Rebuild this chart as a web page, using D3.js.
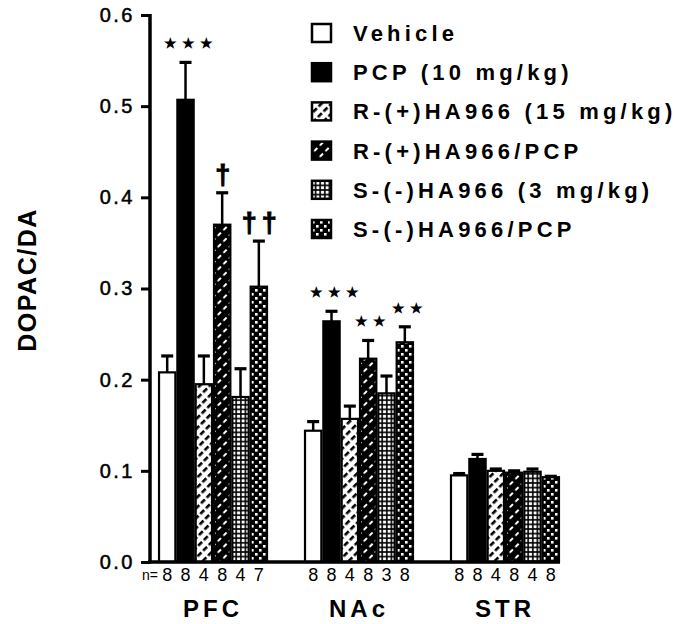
<!DOCTYPE html>
<html><head><meta charset="utf-8">
<script src="https://cdn.jsdelivr.net/npm/d3@7"></script>
<style>
html,body{margin:0;padding:0;background:#fff;}
text{font-family:"Liberation Sans",Arial,sans-serif;fill:#000;}
</style></head>
<body><svg id="c" width="676" height="624"></svg>
<script>
const regions = ["PFC", "NAc", "STR"];
const seriesNames = ["Vehicle", "PCP (10 mg/kg)", "R-(+)HA966 (15 mg/kg)", "R-(+)HA966/PCP", "S-(-)HA966 (3 mg/kg)", "S-(-)HA966/PCP"];
const PFC_mean = [0.208, 0.507, 0.195, 0.370, 0.181, 0.302];
const PFC_sem  = [0.018, 0.041, 0.031, 0.035, 0.031, 0.050];
const NAc_mean = [0.144, 0.264, 0.157, 0.223, 0.185, 0.241];
const NAc_sem  = [0.010, 0.011, 0.014, 0.020, 0.019, 0.017];
const STR_mean = [0.095, 0.113, 0.100, 0.098, 0.099, 0.093];
const STR_sem  = [0.002, 0.005, 0.002, 0.002, 0.003, 0.001];
const PFC_n = ["8","8","4","8","4","7"];
const NAc_n = ["8","8","4","8","3","8"];
const STR_n = ["8","8","4","8","4","8"];
const yTicks = [0.0, 0.1, 0.2, 0.3, 0.4, 0.5, 0.6];
const marks = [
  {region:"PFC", s:1, text:"★★★"},
  {region:"PFC", s:3, text:"†"},
  {region:"PFC", s:5, text:"††"},
  {region:"NAc", s:1, text:"★★★"},
  {region:"NAc", s:3, text:"★★"},
  {region:"NAc", s:5, text:"★★"}
];

const means = {PFC:PFC_mean, NAc:NAc_mean, STR:STR_mean};
const sems = {PFC:PFC_sem, NAc:NAc_sem, STR:STR_sem};
const ns = {PFC:PFC_n, NAc:NAc_n, STR:STR_n};

const svg = d3.select("#c");
const defs = svg.append("defs");
function pat(id, w, h, bg, rot, draw){
  const p = defs.append("pattern").attr("id", id).attr("patternUnits","userSpaceOnUse").attr("width", w).attr("height", h);
  if (rot) p.attr("patternTransform", `rotate(${rot})`);
  p.append("rect").attr("width", w).attr("height", h).attr("fill", bg);
  draw(p);
}
// light hatch: white with black "/" dashes
pat("hLight", 7, 8, "#fff", 45, p => p.append("rect").attr("x",0).attr("y",0).attr("width",2.6).attr("height",5.5).attr("fill","#000"));
// dark hatch: black with white "/" dashes
pat("hDark", 8, 8, "#000", 45, p => p.append("rect").attr("x",0).attr("y",0).attr("width",2).attr("height",4.5).attr("fill","#fff"));
// light dots: white squares on black grid
pat("dLight", 4.6, 4.6, "#000", 0, p => p.append("rect").attr("x",0.8).attr("y",0.8).attr("width",3).attr("height",3).attr("fill","#fff"));
// dark dots: sparse white squares on black
pat("dDark", 8, 8, "#000", 0, p => {
  p.append("rect").attr("x",1).attr("y",1).attr("width",2.6).attr("height",2.6).attr("fill","#fff");
  p.append("rect").attr("x",5).attr("y",5).attr("width",2.6).attr("height",2.6).attr("fill","#fff");
});
const fills = ["#fff", "#000", "url(#hLight)", "url(#hDark)", "url(#dLight)", "url(#dDark)"];

const y = d3.scaleLinear().domain([0, 0.6]).range([562, 15]);
const x0 = d3.scaleBand().domain(regions).range([150, 568]).paddingInner(0.2466).paddingOuter(0.055);
const x1 = d3.scaleBand().domain(d3.range(seriesNames.length)).range([0, x0.bandwidth()]);

const g = svg.append("g");
regions.forEach(r => {
  const gr = g.append("g").attr("transform", `translate(${x0(r)},0)`);
  const data = means[r].map((v,i)=>({v, e:sems[r][i], i, n:ns[r][i]}));
  const eb = gr.selectAll(".eb").data(data).join("g");
  eb.append("line").attr("x1", d=>x1(d.i)+x1.bandwidth()/2).attr("x2", d=>x1(d.i)+x1.bandwidth()/2)
    .attr("y1", d=>y(d.v)).attr("y2", d=>y(d.v+d.e)).attr("stroke","#000").attr("stroke-width",2.5);
  eb.append("line").attr("x1", d=>x1(d.i)+x1.bandwidth()/2-6).attr("x2", d=>x1(d.i)+x1.bandwidth()/2+6)
    .attr("y1", d=>y(d.v+d.e)).attr("y2", d=>y(d.v+d.e)).attr("stroke","#000").attr("stroke-width",3.2);
  gr.selectAll(".bar").data(data).join("rect")
    .attr("x", d=>x1(d.i)+1).attr("width", x1.bandwidth()-2)
    .attr("y", d=>y(d.v)).attr("height", d=>y(0)-y(d.v))
    .attr("fill", d=>fills[d.i]).attr("stroke","#000").attr("stroke-width",2.2);
  gr.selectAll(".n").data(data).join("text")
    .attr("x", d=>x1(d.i)+x1.bandwidth()/2).attr("y", 581)
    .attr("text-anchor","middle").attr("font-size",18).text(d=>d.n);
  gr.append("text").attr("x", x0.bandwidth()/2).attr("y", 617).attr("text-anchor","middle")
    .attr("font-size",24).attr("font-weight","bold").attr("letter-spacing",4).text(r);
});
svg.append("text").attr("x",142).attr("y",580).attr("font-size",14).text("n=");

marks.forEach(m => {
  const v = means[m.region][m.s] + sems[m.region][m.s];
  const cx = x0(m.region) + x1(m.s) + x1.bandwidth()/2;
  const isStar = m.text.includes("★");
  svg.append("text").attr("x", cx + (isStar ? 5 : 3)).attr("y", y(v) - (isStar ? 14 : 9))
    .attr("text-anchor","middle")
    .attr("font-size", isStar ? 14 : 27).attr("font-weight","bold")
    .attr("stroke", isStar ? "none" : "#000").attr("stroke-width", 1)
    .attr("letter-spacing", isStar ? 5 : 5).text(m.text);
});

const ya = svg.append("g").attr("transform","translate(150,0)")
  .call(d3.axisLeft(y).tickValues(yTicks).tickFormat(d3.format(".1f")).tickSize(9).tickPadding(6));
ya.select(".domain").remove();
ya.selectAll(".tick line").attr("stroke","#000").attr("stroke-width",3);
ya.selectAll(".tick text").attr("font-size",20).attr("letter-spacing",2.5)
  .attr("font-family","Liberation Sans, Arial, sans-serif").attr("fill","#000")
  .attr("stroke","#000").attr("stroke-width",0.5);
svg.append("line").attr("x1",150).attr("x2",150).attr("y1",y(0.6)-1).attr("y2",y(0)+1.5).attr("stroke","#000").attr("stroke-width",3.5);
svg.append("line").attr("x1",148).attr("x2",560).attr("y1",y(0)).attr("y2",y(0)).attr("stroke","#000").attr("stroke-width",3.5);

svg.append("text").attr("transform","translate(36,280) rotate(-90)").attr("text-anchor","middle")
  .attr("font-size",25).attr("font-weight","bold").attr("letter-spacing",1.5).text("DOPAC/DA");

const lg = svg.append("g").attr("transform","translate(311,24)");
seriesNames.forEach((s,i) => {
  const row = lg.append("g").attr("transform", `translate(0,${i*39.2})`);
  row.append("rect").attr("x",1).attr("y",0).attr("width",19).attr("height",18)
    .attr("fill", fills[i]).attr("stroke","#000").attr("stroke-width",2.5);
  row.append("text").attr("x",42).attr("y",17).attr("font-size",22).attr("font-weight","bold")
    .attr("letter-spacing",4.2).text(s);
});
</script></body></html>
